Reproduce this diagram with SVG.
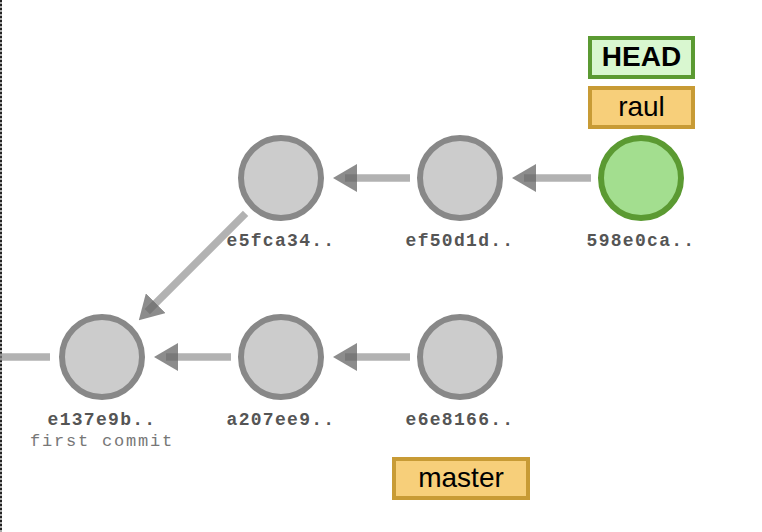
<svg xmlns="http://www.w3.org/2000/svg" width="762" height="532" viewBox="0 0 762 532">
  <style>
    .commit circle { fill: #cccccc; stroke: #888888; stroke-width: 6; }
    .commit.head circle { fill: #a3de8f; stroke: #5b9a32; }
    .sha { font-family: "Liberation Mono", "Courier New", monospace; font-weight: bold; font-size: 18px; letter-spacing: 1.3px; fill: #555555; text-anchor: middle; }
    .msg { font-family: "Liberation Mono", "Courier New", monospace; font-size: 17px; letter-spacing: 1.8px; fill: #777777; text-anchor: middle; }
    .edge { stroke: #888888; stroke-opacity: 0.65; stroke-width: 7.5; fill: none; }
    .ref rect { stroke-width: 4; }
    .branch rect { fill: #f7cf7a; stroke: #c89b35; }
    .headref rect { fill: #d9f7d0; stroke: #5b9a32; }
    .ref text { font-family: "Liberation Sans", Arial, sans-serif; font-size: 28px; fill: #000000; text-anchor: middle; }
    .headref text { font-weight: bold; }
  </style>
  <defs>
    <marker id="arrow" markerUnits="userSpaceOnUse" markerWidth="24" markerHeight="28" viewBox="0 0 24 28" refX="12" refY="14" orient="auto">
      <path d="M0,0 L24,14 L0,28 Z" fill="#666666" fill-opacity="0.75"/>
    </marker>
  </defs>

  <line x1="1" y1="0" x2="1" y2="532" stroke="#aaaaaa" stroke-width="2"/>
  <line x1="1" y1="0" x2="1" y2="532" stroke="#222222" stroke-width="2" stroke-dasharray="2 2"/>

  <g id="connectors">
    <line class="edge" x1="0" y1="357" x2="50" y2="357"/>
    <line class="edge" x1="231" y1="357" x2="166" y2="357" marker-end="url(#arrow)"/>
    <line class="edge" x1="410" y1="357" x2="345" y2="357" marker-end="url(#arrow)"/>
    <line class="edge" x1="410" y1="178" x2="345" y2="178" marker-end="url(#arrow)"/>
    <line class="edge" x1="591" y1="178" x2="524" y2="178" marker-end="url(#arrow)"/>
    <line class="edge" x1="245.6" y1="213.4" x2="147.3" y2="311.7" marker-end="url(#arrow)"/>
  </g>

  <g id="commit-e137e9b" class="commit">
    <circle cx="102" cy="357" r="40"/>
    <text class="sha" x="102" y="425">e137e9b..</text>
    <text class="msg" x="102" y="446">first commit</text>
  </g>
  <g id="commit-a207ee9" class="commit">
    <circle cx="281" cy="357" r="40"/>
    <text class="sha" x="281" y="425">a207ee9..</text>
  </g>
  <g id="commit-e6e8166" class="commit">
    <circle cx="460" cy="357" r="40"/>
    <text class="sha" x="460" y="425">e6e8166..</text>
  </g>
  <g id="commit-e5fca34" class="commit">
    <circle cx="281" cy="178" r="40"/>
    <text class="sha" x="281" y="246">e5fca34..</text>
  </g>
  <g id="commit-ef50d1d" class="commit">
    <circle cx="460" cy="178" r="40"/>
    <text class="sha" x="460" y="246">ef50d1d..</text>
  </g>
  <g id="commit-598e0ca" class="commit head">
    <circle cx="641" cy="178" r="40"/>
    <text class="sha" x="641" y="246">598e0ca..</text>
  </g>

  <g id="ref-HEAD" class="ref headref">
    <rect x="590" y="38" width="103" height="39"/>
    <text x="641.5" y="66">HEAD</text>
  </g>
  <g id="ref-raul" class="ref branch">
    <rect x="590" y="88" width="103" height="39"/>
    <text x="641.5" y="116">raul</text>
  </g>
  <g id="ref-master" class="ref branch">
    <rect x="394" y="459" width="134" height="39"/>
    <text x="461" y="487">master</text>
  </g>
</svg>
